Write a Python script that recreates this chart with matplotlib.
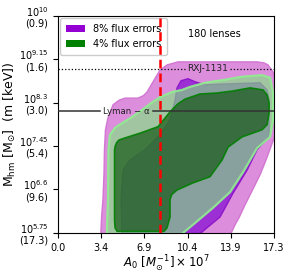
import numpy as np
import matplotlib
matplotlib.use("Agg")
import matplotlib.pyplot as plt
from matplotlib.patches import Polygon, Patch

# axis ticks
xticks = np.linspace(0.0, 17.3, 6)
xlabels = ["0.0", "3.4", "6.9", "10.4", "13.9", "17.3"]
yticks = [5.75, 6.6, 7.45, 8.3, 9.15, 10.0]
ykev = ["17.3", "9.6", "5.4", "3.0", "1.6", "0.9"]

# contour outlines (A0 x1e7, log10 Mhm)
pink_x = [3.44, 3.44, 3.50, 3.60, 3.68, 3.72, 3.80, 4.00, 4.41, 4.90, 5.37, 6.41, 6.85, 7.13,
          7.61, 8.17, 8.73, 9.61, 10.57, 15.94, 16.50, 16.82, 17.22, 17.40, 17.40, 16.66,
          16.20, 15.78, 14.98, 14.50, 14.18, 13.78]
pink_y = [5.70, 5.81, 6.10, 6.40, 6.90, 7.38, 7.77, 8.00, 8.26, 8.35, 8.39, 8.39, 8.44, 8.51,
          8.71, 8.94, 9.04, 9.10, 9.10, 9.10, 9.08, 9.04, 8.90, 8.75, 7.67, 7.18,
          6.90, 6.69, 6.30, 6.05, 5.91, 5.70]

purple_x = [5.13, 5.05, 5.21, 5.77, 6.97, 8.17, 8.97, 9.37, 9.53, 9.85, 10.41, 10.97, 11.77,
            13.78, 16.18, 16.74, 16.90, 16.90, 16.50, 15.94, 15.14, 14.02, 12.97, 11.93, 11.21]
purple_y = [5.70, 6.40, 6.98, 7.18, 7.38, 7.67, 7.96, 8.35, 8.59, 8.73, 8.77, 8.71, 8.65,
            8.67, 8.69, 8.55, 8.35, 7.63, 7.53, 7.38, 6.98, 6.53, 6.06, 5.85, 5.70]

lgreen_x = [3.92, 3.92, 4.00, 4.04, 4.16, 4.57, 5.13, 5.93, 6.73, 7.61, 8.17, 9.13, 9.93, 10.57,
            11.77, 13.38, 14.74, 16.34, 16.98, 17.22, 17.22, 16.98, 15.94, 14.82, 13.78, 12.41,
            10.81, 9.77]
lgreen_y = [5.70, 5.81, 6.40, 7.38, 7.67, 7.81, 7.90, 8.02, 8.16, 8.32, 8.41, 8.51, 8.55, 8.61,
            8.69, 8.75, 8.81, 8.84, 8.79, 8.49, 7.96, 7.63, 7.41, 6.94, 6.55, 6.24,
            5.91, 5.70]

dgreen_x = [4.73, 4.57, 4.53, 4.53, 4.58, 4.70, 4.89, 5.37, 6.65, 8.01, 8.97, 9.61, 10.17,
            11.37, 12.73, 14.02, 15.38, 16.42, 16.75, 16.90, 16.90, 16.74, 16.34, 14.74, 13.62,
            13.14, 12.17, 10.81, 9.53, 9.10, 8.97, 8.97, 8.73, 8.49]
dgreen_y = [5.78, 5.85, 6.00, 7.38, 7.45, 7.52, 7.57, 7.61, 7.71, 7.83, 8.12, 8.28, 8.37,
            8.47, 8.49, 8.53, 8.59, 8.55, 8.45, 8.30, 8.10, 7.87, 7.77, 7.63, 7.43,
            7.18, 6.85, 6.73, 6.59, 6.50, 6.40, 6.06, 5.85, 5.78]

a0_fid = 8.17
rxj_mhm = 8.96
lyman_mhm = 8.13
n_lenses = 180

fig = plt.figure(figsize=(2.87, 2.74), dpi=100)
ax = fig.add_axes([0.202, 0.150, 0.753, 0.792])

def blob(xs, ys, fc, ec, lw, alpha, z):
    p = Polygon(np.column_stack([xs, ys]), closed=True, facecolor=fc, edgecolor="none",
                alpha=alpha, zorder=z)
    ax.add_patch(p)
    e = Polygon(np.column_stack([xs, ys]), closed=True, facecolor="none", edgecolor=ec,
                lw=lw, alpha=0.9, zorder=z + 0.1, joinstyle="round")
    ax.add_patch(e)

blob(pink_x, pink_y, "#dc8ddc", "#d070d0", 1.0, 1.0, 1)
blob(purple_x, purple_y, "#9c30d4", "#8a10c8", 1.0, 1.0, 2)
blob(lgreen_x, lgreen_y, "#7ee87e", "#90ee90", 1.6, 0.62, 3)
blob(dgreen_x, dgreen_y, "#125512", "#008000", 1.2, 0.68, 4)

ax.axvline(a0_fid, color="red", ls=(0, (3.5, 2)), lw=1.8, zorder=6)
# reference lines, broken where their labels sit
ax.plot([0, 10.2], [rxj_mhm, rxj_mhm], color="k", ls=":", lw=0.9, zorder=5)
ax.plot([13.8, 17.3], [rxj_mhm, rxj_mhm], color="k", ls=":", lw=0.9, zorder=5)
ax.text(11.97, rxj_mhm, "RXJ-1131", fontsize=6.5, ha="center", va="center", zorder=7,
        color="#222222")
ax.plot([0, 3.36], [lyman_mhm, lyman_mhm], color="#333333", lw=1.1, zorder=5)
ax.plot([7.6, 17.3], [lyman_mhm, lyman_mhm], color="#333333", lw=1.1, zorder=5)
ax.text(5.45, lyman_mhm, "Lyman \u2212 \u03b1", fontsize=6.2, ha="center", va="center",
        zorder=7, color="#222222")

ax.text(12.53, 9.65, f"{n_lenses} lenses", fontsize=7, ha="center", va="center")

handles = [Patch(facecolor="#9400d3", label="8% flux errors"),
           Patch(facecolor="#008000", label="4% flux errors")]
ax.legend(handles=handles, loc="upper left", fontsize=7, handlelength=1.95,
          labelspacing=0.5, borderpad=0.6, borderaxespad=0.25, framealpha=1.0)

ax.set_xlim(0, 17.3)
ax.set_ylim(5.75, 10.0)
ax.set_xticks(xticks)
ax.set_xticklabels(xlabels, fontsize=7)
ax.set_yticks(yticks)
ax.set_yticklabels([f"$10^{{{t:g}}}$\n({k})" for t, k in zip(yticks, ykev)], fontsize=7,
                   linespacing=1.0)
ax.set_xlabel(r"$A_0$ $[M_{\odot}^{-1}]\times 10^7$", fontsize=8.5, labelpad=1)
ax.set_ylabel(r"M$_{\rm hm}$ [M$_{\odot}$]  (m [keV])", fontsize=9, labelpad=1)

fig.savefig("out.png", dpi=100)
